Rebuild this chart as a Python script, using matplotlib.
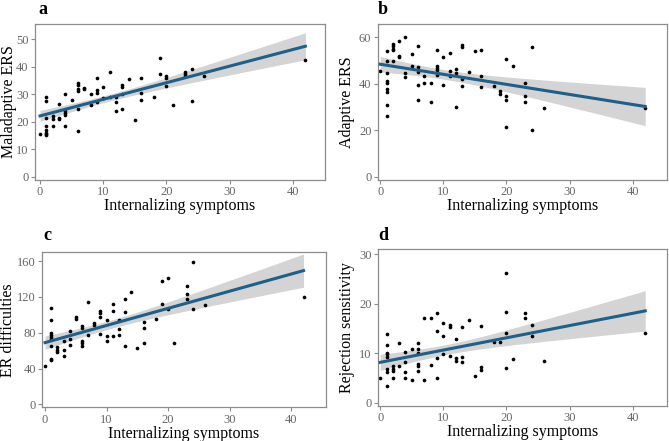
import matplotlib
matplotlib.use("Agg")
import matplotlib.pyplot as plt
import numpy as np

plt.rcParams["font.family"] = ["Liberation Serif", "DejaVu Serif"]

# panel a: maladaptive ERS
a_x = [0, 1, 1, 1, 1, 1, 1, 1, 1, 2, 2, 2, 3, 3, 3, 4, 4, 4, 4, 4, 5,
       6, 6, 6, 6, 6, 6, 7, 7, 8, 8, 9, 9, 9, 9, 10, 10, 11, 11, 12, 12, 12,
       13, 13, 13, 13, 14, 15, 16, 16, 16, 18, 19, 19, 20, 20, 20, 21,
       23, 23, 23, 24, 24, 26, 42]
a_y = [15.4, 29, 27.5, 21.5, 18.5, 17, 16, 15.5, 15, 22, 21, 18.5, 26.6, 21.5, 21,
       30, 23.9, 23, 22.5, 18.6, 28, 34, 33.3, 31.8, 31, 24.5, 16.5, 32.4, 31.7,
       30, 26, 36, 31.6, 30.6, 27, 32.5, 28.5, 38, 28.8, 28.9, 27, 24,
       33.4, 32.5, 30, 24.5, 35.6, 20.5, 36, 30.6, 28, 29, 43, 37.5, 36.5, 35.7, 33,
       26, 38, 37.4, 36.6, 39, 27.5, 36.5, 42.5]

# panel b: adaptive ERS
b_x = [0, 1, 1, 1, 1, 1, 1, 1, 1, 1, 2, 2, 2, 2, 2, 3, 3, 3, 4, 4, 4, 5, 5,
       6, 6, 6, 6, 6, 7, 7, 8, 8, 9, 9, 9, 9, 9, 10, 10, 11, 11, 11,
       12, 12, 12, 13, 13, 13, 13, 14, 15, 16, 16, 16, 18, 19, 19,
       20, 20, 20, 20, 21, 23, 23, 23, 24, 24, 26, 42]
b_y = [45.6, 54.1, 49.7, 44.8, 41.3, 40.5, 37.9, 36.3, 31.1, 26,
       57.4, 56.4, 55.1, 54.5, 49.7, 58.6, 52.1, 51.4, 60.3, 44.8, 43, 52.7, 47.7,
       56.3, 47.2, 45.1, 39.6, 33.2, 43.6, 40.5, 40.6, 32, 54.5, 47.7, 46.9, 45.9, 43.8,
       51.7, 39.6, 53.5, 45.4, 43.2, 46.6, 44.9, 30, 56.7, 56.1, 41.9, 39,
       45.2, 54.1, 54.7, 43.6, 38.5, 39, 37, 35.5, 50.7, 34.7, 33, 21.4, 47.7,
       40.6, 34.7, 32.4, 56.1, 20, 29.6, 29.6]

# panel c: ER difficulties
c_x = [0, 1, 1, 1, 1, 1, 1, 1, 1, 1, 2, 2, 2, 3, 3, 3, 4, 4, 4, 5, 5,
       6, 6, 6, 6, 6, 7, 7, 8, 8, 9, 9, 9, 9, 10, 10, 10, 11, 11, 11,
       12, 12, 12, 13, 13, 13, 14, 15, 16, 16, 16, 18, 19, 19, 20, 20, 21,
       23, 23, 23, 24, 24, 26, 42]
c_y = [42.9, 107.4, 94.4, 80.2, 77.6, 75, 72.7, 65.3, 51.1, 50, 64.1, 61.2, 58.9,
       71.2, 60.8, 54.1, 82, 73.5, 66, 97.3, 95.1, 88, 85, 70.9, 69, 64.9, 114.1, 77.9,
       91, 89.1, 104.4, 101.8, 98.1, 79.1, 94, 76.8, 71.2, 112.3, 104, 76.5,
       94.4, 84.3, 77.6, 117.5, 103.3, 64.9, 126, 63, 92.1, 85, 68.6, 95.1,
       138.4, 111.9, 141, 106.3, 68.6, 132.4, 123, 118.2, 159.6, 107, 111.5, 120.1]

# panel d: rejection sensitivity
d_x = [0, 1, 1, 1, 1, 1, 1, 1, 1, 2, 2, 2, 2, 3, 3, 4, 4, 4, 4, 5, 5,
       6, 6, 6, 6, 6, 6, 7, 7, 8, 8, 9, 9, 9, 9, 10, 10, 10, 11, 11, 11,
       12, 12, 12, 13, 13, 13, 14, 15, 16, 16, 16, 18, 19, 20, 20, 20, 20,
       21, 23, 23, 24, 24, 26, 42]
d_y = [5, 13.9, 11.6, 10.1, 9.8, 9.3, 6.8, 6.3, 3.4, 7.5, 6.8, 6.5, 5.1, 12, 7.5,
       10.2, 8.2, 6.3, 5.1, 10.9, 4.5, 12, 10.9, 10, 7.8, 7.5, 6.5, 17.2, 4.7,
       17.1, 7.7, 18.2, 14.5, 9, 5, 16.2, 13.4, 9.8, 15.7, 15.4, 9.5,
       12.8, 9.1, 8.5, 15.3, 9.3, 8.3, 16.8, 5.4, 15.5, 7.2, 6.7, 12.2, 12.2,
       26.2, 18.4, 14.1, 7.1, 8.9, 18.2, 17.1, 15.7, 13.6, 8.5, 14.2]

x_label = "Internalizing symptoms"
W, H = 669, 441
# letter, x, y, y label, y ticks, ylim, axes box in px (left, top, right, bottom),
# xlim, y-label right edge px, letter position px (x, baseline)
panels = [
    ("a", a_x, a_y, "Maladaptive ERS", [0, 10, 20, 30, 40, 50], (-1.2, 55.5),
     (35, 24, 325, 180), (-0.8, 45.1), 17, (38, 14)),
    ("b", b_x, b_y, "Adaptive ERS", [0, 20, 40, 60], (-1.4, 65.8),
     (377.7, 24, 667.3, 180), (-0.4, 45.5), 355, (378, 14)),
    ("c", c_x, c_y, "ER difficulties", [0, 40, 80, 120, 160], (-3.4, 170),
     (42.3, 252.3, 325.7, 407.3), (-0.45, 45.6), 16.5, (43, 240.5)),
    ("d", d_x, d_y, "Rejection sensitivity", [0, 10, 20, 30], (-0.6, 31.1),
     (377.7, 249, 667.3, 405.7), (-0.4, 45.5), 354.5, (378, 240.5)),
]

line_col = "#1d6089"
frame_col = "#8c8c8c"
tick_col = "#666666"

fig = plt.figure(figsize=(W / 100, H / 100), dpi=100)

for letter, xs, ys, ylab, yticks, ylim, box, xlim, ylab_px, let_px in panels:
    l, t, r, b = box
    ax = fig.add_axes([l / W, 1 - b / H, (r - l) / W, (b - t) / H])
    x = np.array(xs, dtype=float)
    y = np.array(ys, dtype=float)

    # linear fit with 95% confidence band (like geom_smooth(method="lm"))
    n = len(x)
    slope, icpt = np.polyfit(x, y, 1)
    resid = y - (icpt + slope * x)
    s = np.sqrt(np.sum(resid ** 2) / (n - 2))
    xg = np.linspace(x.min(), x.max(), 100)
    se = s * np.sqrt(1 / n + (xg - x.mean()) ** 2 / np.sum((x - x.mean()) ** 2))
    fit = icpt + slope * xg
    ax.fill_between(xg, fit - 1.998 * se, fit + 1.998 * se, color="#d4d4d4", lw=0, zorder=1)
    ax.scatter(x, y, s=7, color="black", lw=0, zorder=2)
    ax.plot(xg, fit, color=line_col, lw=2.2, zorder=3)

    ax.set_xlim(*xlim)
    ax.set_ylim(*ylim)
    ax.set_xticks([0, 10, 20, 30, 40])
    ax.set_yticks(yticks)
    ax.tick_params(colors=frame_col, labelcolor=tick_col, labelsize=9,
                   length=3, width=0.8, pad=1.5)
    for sp in ax.spines.values():
        sp.set_color(frame_col)
        sp.set_linewidth(0.9)
    ax.set_xlabel(x_label, fontsize=11.5, labelpad=0)
    ax.set_ylabel(ylab, fontsize=11.5)
    ax.yaxis.set_label_coords((ylab_px - l) / (r - l), 0.5)

    fig.text(let_px[0] / W, 1 - let_px[1] / H, letter,
             fontsize=13, fontweight="bold", ha="left", va="baseline")

fig.savefig("out.png", dpi=100)
